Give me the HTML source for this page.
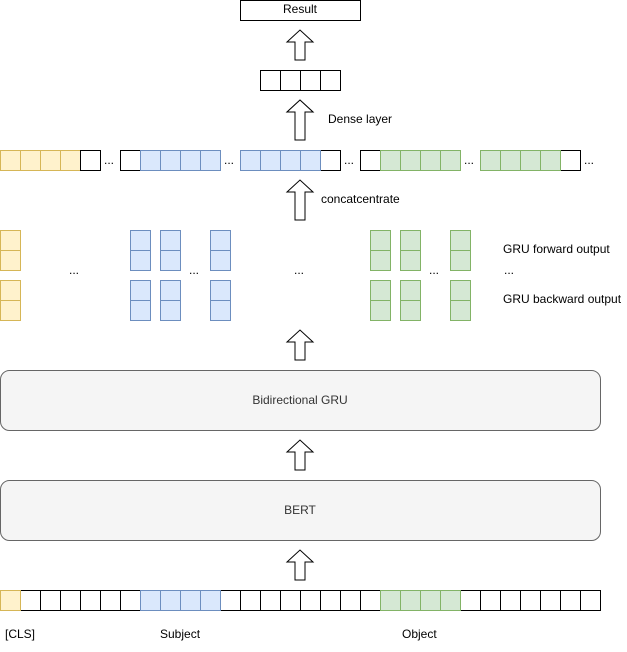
<!DOCTYPE html><html><head><style>body{margin:0;background:#fff}</style></head><body>
<svg width="627" height="647" xmlns="http://www.w3.org/2000/svg" font-family="Liberation Sans, sans-serif" font-size="12">
<defs>
<g id="ar"><path d="M-5,30 V12 H-13 L0,0 L13,12 H5 V30 Z" fill="#fff" stroke="#000" stroke-width="1"/></g>
</defs>
<g stroke-width="1" shape-rendering="crispEdges">
<rect x="240.5" y="0.5" width="120" height="20" fill="#fff" stroke="#000"/>
<g fill="#fff" stroke="#000"><rect x="260.5" y="70.5" width="20" height="20"/><rect x="280.5" y="70.5" width="20" height="20"/><rect x="300.5" y="70.5" width="20" height="20"/><rect x="320.5" y="70.5" width="20" height="20"/></g>
<g id="top"></g>
</g>
<text x="300" y="13" text-anchor="middle">Result</text>
<use href="#ar" x="300" y="30"/>
<use href="#ar" x="300" y="100" transform="translate(0,0)"/>
<path d="M295,140 V112 H287 L300,100 L313,112 H305 V140 Z" fill="#fff" stroke="#000"/>
<path d="M295,220 V192 H287 L300,180 L313,192 H305 V220 Z" fill="#fff" stroke="#000"/>
<use href="#ar" x="300" y="330"/>
<use href="#ar" x="300" y="440"/>
<use href="#ar" x="300" y="550"/>
<text x="328" y="123">Dense layer</text>
<text x="321" y="203">concatcentrate</text>
<text x="503" y="253">GRU forward output</text>
<text x="503" y="303">GRU backward output</text>
<rect x="0.5" y="370.5" width="600" height="60" rx="9" fill="#f5f5f5" stroke="#666"/>
<text x="300" y="404" text-anchor="middle" fill="#333">Bidirectional GRU</text>
<rect x="0.5" y="480.5" width="600" height="60" rx="9" fill="#f5f5f5" stroke="#666"/>
<text x="300" y="514" text-anchor="middle" fill="#333">BERT</text>
<text x="5" y="638">[CLS]</text>
<text x="160" y="638">Subject</text>
<text x="402" y="638">Object</text>
<g shape-rendering="crispEdges" id="cells"></g>
<g font-size="12">
<text x="104" y="164">...</text><text x="224" y="164">...</text><text x="344" y="164">...</text><text x="464" y="164">...</text><text x="584" y="164">...</text>
<text x="69" y="274">...</text><text x="189" y="274">...</text><text x="294" y="274">...</text><text x="429" y="274">...</text><text x="504" y="274">...</text>
</g>
<g shape-rendering="crispEdges">
<!-- top row -->
<g fill="#fff2cc" stroke="#d6b656"><rect x="0.5" y="150.5" width="20" height="20"/><rect x="20.5" y="150.5" width="20" height="20"/><rect x="40.5" y="150.5" width="20" height="20"/><rect x="60.5" y="150.5" width="20" height="20"/></g>
<g fill="#fff" stroke="#000"><rect x="80.5" y="150.5" width="20" height="20"/><rect x="120.5" y="150.5" width="20" height="20"/><rect x="320.5" y="150.5" width="20" height="20"/><rect x="360.5" y="150.5" width="20" height="20"/><rect x="560.5" y="150.5" width="20" height="20"/></g>
<g fill="#dae8fc" stroke="#6c8ebf"><rect x="140.5" y="150.5" width="20" height="20"/><rect x="160.5" y="150.5" width="20" height="20"/><rect x="180.5" y="150.5" width="20" height="20"/><rect x="200.5" y="150.5" width="20" height="20"/><rect x="240.5" y="150.5" width="20" height="20"/><rect x="260.5" y="150.5" width="20" height="20"/><rect x="280.5" y="150.5" width="20" height="20"/><rect x="300.5" y="150.5" width="20" height="20"/></g>
<g fill="#d5e8d4" stroke="#82b366"><rect x="380.5" y="150.5" width="20" height="20"/><rect x="400.5" y="150.5" width="20" height="20"/><rect x="420.5" y="150.5" width="20" height="20"/><rect x="440.5" y="150.5" width="20" height="20"/><rect x="480.5" y="150.5" width="20" height="20"/><rect x="500.5" y="150.5" width="20" height="20"/><rect x="520.5" y="150.5" width="20" height="20"/><rect x="540.5" y="150.5" width="20" height="20"/></g>
<!-- GRU -->
<g fill="#fff2cc" stroke="#d6b656"><rect x="0.5" y="230.5" width="20" height="20"/><rect x="0.5" y="250.5" width="20" height="20"/><rect x="0.5" y="280.5" width="20" height="20"/><rect x="0.5" y="300.5" width="20" height="20"/></g>
<g fill="#dae8fc" stroke="#6c8ebf">
<rect x="130.5" y="230.5" width="20" height="20"/><rect x="130.5" y="250.5" width="20" height="20"/><rect x="130.5" y="280.5" width="20" height="20"/><rect x="130.5" y="300.5" width="20" height="20"/>
<rect x="160.5" y="230.5" width="20" height="20"/><rect x="160.5" y="250.5" width="20" height="20"/><rect x="160.5" y="280.5" width="20" height="20"/><rect x="160.5" y="300.5" width="20" height="20"/>
<rect x="210.5" y="230.5" width="20" height="20"/><rect x="210.5" y="250.5" width="20" height="20"/><rect x="210.5" y="280.5" width="20" height="20"/><rect x="210.5" y="300.5" width="20" height="20"/></g>
<g fill="#d5e8d4" stroke="#82b366">
<rect x="370.5" y="230.5" width="20" height="20"/><rect x="370.5" y="250.5" width="20" height="20"/><rect x="370.5" y="280.5" width="20" height="20"/><rect x="370.5" y="300.5" width="20" height="20"/>
<rect x="400.5" y="230.5" width="20" height="20"/><rect x="400.5" y="250.5" width="20" height="20"/><rect x="400.5" y="280.5" width="20" height="20"/><rect x="400.5" y="300.5" width="20" height="20"/>
<rect x="450.5" y="230.5" width="20" height="20"/><rect x="450.5" y="250.5" width="20" height="20"/><rect x="450.5" y="280.5" width="20" height="20"/><rect x="450.5" y="300.5" width="20" height="20"/></g>
<!-- bottom row -->
<g fill="#fff" stroke="#000">
<rect x="20.5" y="590.5" width="20" height="20"/><rect x="40.5" y="590.5" width="20" height="20"/><rect x="60.5" y="590.5" width="20" height="20"/><rect x="80.5" y="590.5" width="20" height="20"/><rect x="100.5" y="590.5" width="20" height="20"/><rect x="120.5" y="590.5" width="20" height="20"/>
<rect x="220.5" y="590.5" width="20" height="20"/><rect x="240.5" y="590.5" width="20" height="20"/><rect x="260.5" y="590.5" width="20" height="20"/><rect x="280.5" y="590.5" width="20" height="20"/><rect x="300.5" y="590.5" width="20" height="20"/><rect x="320.5" y="590.5" width="20" height="20"/><rect x="340.5" y="590.5" width="20" height="20"/><rect x="360.5" y="590.5" width="20" height="20"/>
<rect x="460.5" y="590.5" width="20" height="20"/><rect x="480.5" y="590.5" width="20" height="20"/><rect x="500.5" y="590.5" width="20" height="20"/><rect x="520.5" y="590.5" width="20" height="20"/><rect x="540.5" y="590.5" width="20" height="20"/><rect x="560.5" y="590.5" width="20" height="20"/><rect x="580.5" y="590.5" width="20" height="20"/></g>
<rect x="0.5" y="590.5" width="20" height="20" fill="#fff2cc" stroke="#d6b656"/>
<g fill="#dae8fc" stroke="#6c8ebf"><rect x="140.5" y="590.5" width="20" height="20"/><rect x="160.5" y="590.5" width="20" height="20"/><rect x="180.5" y="590.5" width="20" height="20"/><rect x="200.5" y="590.5" width="20" height="20"/></g>
<g fill="#d5e8d4" stroke="#82b366"><rect x="380.5" y="590.5" width="20" height="20"/><rect x="400.5" y="590.5" width="20" height="20"/><rect x="420.5" y="590.5" width="20" height="20"/><rect x="440.5" y="590.5" width="20" height="20"/></g>
</g>
</svg>
</body></html>
